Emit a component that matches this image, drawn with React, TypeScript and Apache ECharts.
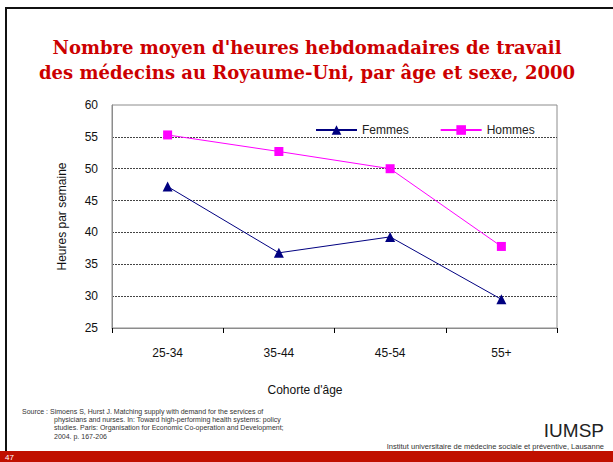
import React, { useEffect, useRef } from "react";
import * as echarts from "echarts";

const categories = ["25-34", "35-44", "45-54", "55+"];
const femmes = [47.2, 36.8, 39.3, 29.5];
const hommes = [55.3, 52.7, 50.0, 37.8];
const yTicks = [25, 30, 35, 40, 45, 50, 55, 60];

const titleLines = [
  "Nombre moyen d'heures hebdomadaires de travail",
  "des médecins au Royaume-Uni, par âge et sexe, 2000",
];
const sourceLines = [
  "Source : Simoens S, Hurst J. Matching supply with demand for the services of",
  "physicians and nurses. In: Toward high-performing health systems: policy",
  "studies. Paris: Organisation for Economic Co-operation and Development;",
  "2004. p. 167-206",
];

export default function App() {
  const ref = useRef<HTMLDivElement>(null);
  useEffect(() => {
    document.body.style.margin = "0";
    const chart = echarts.init(ref.current!, null, { renderer: "svg" });
    const sans = "'Liberation Sans', Arial, sans-serif";
    chart.setOption({
      animation: false,
      backgroundColor: "#ffffff",
      textStyle: { fontFamily: sans },
      grid: {
        left: 112,
        top: 105,
        right: 56,
        bottom: 134,
        show: true,
        borderColor: "#8c8c8c",
        borderWidth: 1,
      },
      legend: {
        left: 310,
        top: 119,
        itemWidth: 41,
        itemHeight: 12,
        itemGap: 31,
        textStyle: { fontSize: 12, color: "#222", fontFamily: sans },
        data: ["Femmes", "Hommes"],
      },
      xAxis: {
        type: "category",
        data: categories,
        boundaryGap: true,
        axisLine: { lineStyle: { color: "#8c8c8c" } },
        axisTick: { show: true, length: 5, interval: 0, lineStyle: { color: "#000" } },
        axisLabel: { margin: 19, fontSize: 12, color: "#111", fontFamily: sans },
      },
      yAxis: {
        type: "value",
        min: yTicks[0],
        max: yTicks[yTicks.length - 1],
        interval: 5,
        name: "Heures par semaine",
        nameLocation: "middle",
        nameGap: 44,
        nameRotate: 90,
        nameTextStyle: { fontSize: 12, color: "#111", fontFamily: sans },
        axisLine: { show: true, lineStyle: { color: "#8c8c8c" } },
        axisTick: { show: false },
        axisLabel: { margin: 14, fontSize: 12, color: "#111", fontFamily: sans },
        splitLine: {
          show: true,
          lineStyle: {
            type: [2, 1],
            width: 1,
            color: yTicks.map((v, i) =>
              i === 0 || i === yTicks.length - 1 ? "rgba(0,0,0,0)" : "#444"
            ),
          },
        },
      },
      series: [
        {
          name: "Femmes",
          type: "line",
          data: femmes,
          symbol: "triangle",
          symbolSize: 10,
          itemStyle: { color: "#000080" },
          lineStyle: { color: "#000080", width: 1 },
        },
        {
          name: "Hommes",
          type: "line",
          data: hommes,
          symbol: "rect",
          symbolSize: 9,
          itemStyle: { color: "#ff00ff" },
          lineStyle: { color: "#ff00ff", width: 1 },
        },
      ],
      graphic: [
        { type: "rect", shape: { x: 5, y: 7, width: 610, height: 2 }, style: { fill: "#111" }, silent: true },
        { type: "rect", shape: { x: 5, y: 7, width: 2, height: 445 }, style: { fill: "#111" }, silent: true },
        { type: "rect", shape: { x: 0, y: 451, width: 613, height: 11 }, style: { fill: "#c01000" }, silent: true },
        {
          type: "text",
          x: 5,
          y: 457,
          style: { text: "47", fill: "#fff", fontSize: 8, fontFamily: sans, verticalAlign: "middle" },
        },
        ...titleLines.map((t, i) => ({
          type: "text",
          x: 307,
          y: 47 + i * 25,
          style: {
            text: t,
            fill: "#cc0000",
            fontSize: 18,
            fontWeight: "bold",
            fontFamily: "'DejaVu Serif', serif",
            align: "center",
            verticalAlign: "middle",
          },
        })),
        {
          type: "text",
          x: 305,
          y: 390,
          style: {
            text: "Cohorte d'âge",
            fill: "#111",
            fontSize: 12,
            fontFamily: sans,
            align: "center",
            verticalAlign: "middle",
          },
        },
        ...sourceLines.map((t, i) => ({
          type: "text",
          x: i === 0 ? 22 : 54,
          y: 411 + i * 8.4,
          style: {
            text: t,
            fill: "#333",
            fontSize: 7,
            fontFamily: sans,
            align: "left",
            verticalAlign: "middle",
          },
        })),
        {
          type: "text",
          x: 604,
          y: 440,
          style: {
            text: "IUMSP",
            fill: "#222",
            fontSize: 19,
            fontFamily: sans,
            align: "right",
            verticalAlign: "bottom",
          },
        },
        {
          type: "text",
          x: 604,
          y: 446.5,
          style: {
            text: "Institut universitaire de médecine sociale et préventive, Lausanne",
            fill: "#333",
            fontSize: 7.5,
            fontFamily: sans,
            align: "right",
            verticalAlign: "middle",
          },
        },
      ],
    });
    return () => chart.dispose();
  }, []);
  return <div ref={ref} style={{ width: 613, height: 462 }} />;
}
